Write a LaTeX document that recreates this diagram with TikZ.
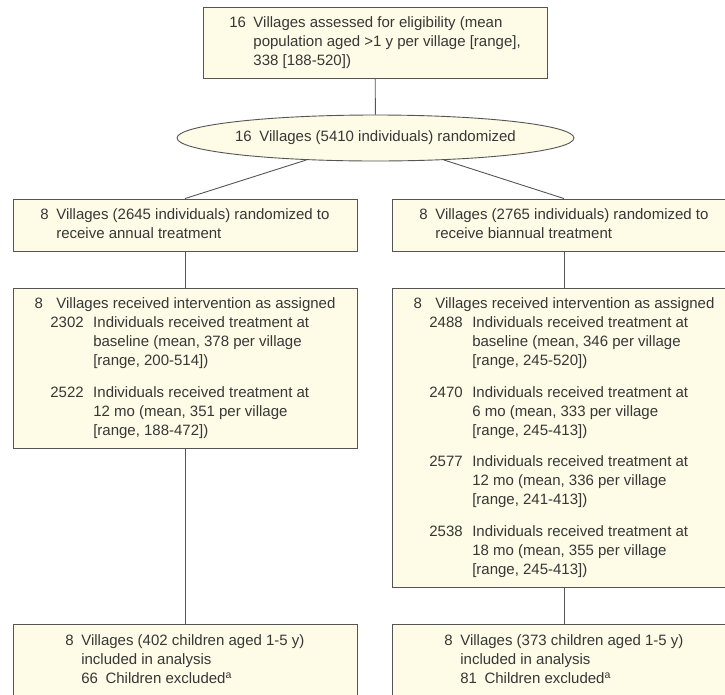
\documentclass[tikz,border=0pt]{standalone}
\usepackage{fontspec}
\setmainfont{Liberation Sans}
\usepackage{tikz}
\usetikzlibrary{shapes.geometric,positioning}
\definecolor{boxfill}{RGB}{254,251,230}
\definecolor{boxline}{RGB}{85,85,85}
\definecolor{txtgray}{RGB}{55,55,55}
\newcommand{\numgap}{\hspace{7.5pt}}
\newcommand{\subgap}{\hspace{9.5pt}}
\tikzset{
  flowbox/.style={draw=boxline, fill=boxfill, line width=0.9pt, inner sep=0pt,
    minimum width=344pt, text=txtgray, font=\fontsize{15}{19}\selectfont},
  randell/.style={ellipse, draw=boxline, fill=boxfill, line width=0.9pt, inner sep=0pt,
    minimum width=349pt, minimum height=46pt, text=txtgray, font=\fontsize{15}{19}\selectfont},
  linkln/.style={draw=boxline, line width=0.9pt},
}

\begin{document}
\begin{tikzpicture}[x=1pt,y=-1pt]
    % frame of the picture
    \useasboundingbox (0,0) rectangle (725,694);
    \clip (0,0) rectangle (725,694);
    % eligibility and randomization
    \node[flowbox, minimum height=71pt] (elig) at (375,42.5) {%
      \begin{tabular}{@{}l@{\numgap}l@{}}
        16 & Villages assessed for eligibility (mean\\
           & population aged >1 y per village [range],\\
           & 338 [188-520])
      \end{tabular}};
    \node[randell] (rand) at (375.5,138) {16\numgap Villages (5410 individuals) randomized};
    % the two arms
    \node[flowbox, minimum height=52pt] (annual) at (185,225) {%
      \begin{tabular}{@{}l@{\numgap}l@{}}
        8 & Villages (2645 individuals) randomized to\\
          & receive annual treatment
      \end{tabular}};
    \node[flowbox, minimum height=52pt] (biannual) at (564,225) {%
      \begin{tabular}{@{}l@{\numgap}l@{}}
        8 & Villages (2765 individuals) randomized to\\
          & receive biannual treatment
      \end{tabular}};
    % treatment received
    \node[flowbox, minimum height=160pt] (recA) at (185,368) {%
      \begin{tabular}{@{}l@{\numgap}l@{\subgap}l@{}}
        8 & \multicolumn{2}{l@{}}{Villages received intervention as assigned}\\
          & 2302 & Individuals received treatment at\\
          &      & baseline (mean, 378 per village\\
          &      & [range, 200-514])\\[12.5pt]
          & 2522 & Individuals received treatment at\\
          &      & 12 mo (mean, 351 per village\\
          &      & [range, 188-472])
      \end{tabular}};
    \node[flowbox, minimum height=299pt] (recB) at (564,437.5) {%
      \begin{tabular}{@{}l@{\numgap}l@{\subgap}l@{}}
        8 & \multicolumn{2}{l@{}}{Villages received intervention as assigned}\\
          & 2488 & Individuals received treatment at\\
          &      & baseline (mean, 346 per village\\
          &      & [range, 245-520])\\[12.5pt]
          & 2470 & Individuals received treatment at\\
          &      & 6 mo (mean, 333 per village\\
          &      & [range, 245-413])\\[12.5pt]
          & 2577 & Individuals received treatment at\\
          &      & 12 mo (mean, 336 per village\\
          &      & [range, 241-413])\\[12.5pt]
          & 2538 & Individuals received treatment at\\
          &      & 18 mo (mean, 355 per village\\
          &      & [range, 245-413])
      \end{tabular}};
    % children in analysis
    \node[flowbox, minimum height=74pt] (anaA) at (185,661) {%
      \begin{tabular}{@{}l@{\numgap}l@{}}
        8 & Villages (402 children aged 1-5 y)\\
          & included in analysis\\
          & 66\numgap Children excluded\textsuperscript{a}
      \end{tabular}};
    \node[flowbox, minimum height=74pt] (anaB) at (564,661) {%
      \begin{tabular}{@{}l@{\numgap}l@{}}
        8 & Villages (373 children aged 1-5 y)\\
          & included in analysis\\
          & 81\numgap Children excluded\textsuperscript{a}
      \end{tabular}};
    % connectors
    \draw[linkln] (elig) -- (rand);
    \draw[linkln] (rand) -- (annual.north);
    \draw[linkln] (rand) -- (biannual.north);
    \draw[linkln] (annual) -- (recA);
    \draw[linkln] (biannual) -- (recB);
    \draw[linkln] (recA) -- (anaA);
    \draw[linkln] (recB) -- (anaB);
  \end{tikzpicture}
\end{document}
